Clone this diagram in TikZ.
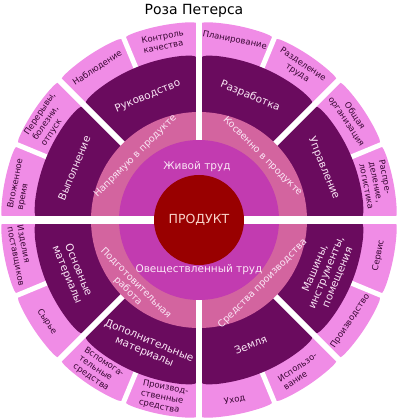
\documentclass[tikz,border=0pt]{standalone}
\usepackage{fontspec}
\setmainfont{DejaVu Sans}
\definecolor{petal}{HTML}{F08CE6}
\definecolor{leaf}{HTML}{6A0B5E}
\definecolor{band}{HTML}{D3649F}
\definecolor{inner}{HTML}{C23BB0}
\definecolor{core}{HTML}{990000}
\definecolor{petaltext}{HTML}{3A0634}
\definecolor{lighttext}{HTML}{FBE6F6}
\definecolor{coretext}{HTML}{F8D2C8}

% sector between angles #1 and #2, radii #3..#4, outer corners rounded by #5
\newcommand\roundsector[6]{%
  \pgfmathsetmacro\cornerang{#5/(#4)*180/pi}%
  \fill[#6] ({#1}:{#3}) -- ({#1}:{#4-#5}) .. controls ({#1}:{#4}) .. ({#1+\cornerang}:{#4})
    arc[start angle={#1+\cornerang}, end angle={#2-\cornerang}, radius={#4}]
    .. controls ({#2}:{#4}) .. ({#2}:{#4-#5}) -- ({#2}:{#3})
    arc[start angle={#2}, end angle={#1}, radius={#3}] -- cycle;
}

\begin{document}
\begin{tikzpicture}[x=1pt,y=1pt,
  gap/.style={white, line width=#1},
  petallabel/.style={text=petaltext, align=center, inner sep=0pt,
    font=\fontsize{8.5}{10}\selectfont},
  leftpetal/.style={petallabel, align=left},
  leaflabel/.style={text=lighttext, align=center, inner sep=0pt,
    font=\fontsize{10.5}{12.2}\selectfont},
  bandlabel/.style={text=lighttext, align=center, inner sep=0pt,
    font=\fontsize{9.6}{11}\selectfont},
  innerlabel/.style={text=lighttext, inner sep=0pt,
    font=\fontsize{10.5}{12}\selectfont}]
\useasboundingbox (-199,-200) rectangle (201,220);

\node (title) at (-5,209) {\fontsize{14}{16}\selectfont Роза Петерса};

% outer ring: sixteen petals
\foreach \i in {0,...,15} {
  \roundsector{\i*22.5}{\i*22.5+22.5}{140}{198}{13}{petal}
}
\foreach \a in {22.5,67.5,...,337.5} {
  \draw[gap=5] (\a:140) -- (\a:200);
}

% second ring: eight leaves
\foreach \i in {0,...,7} {
  \roundsector{\i*45}{\i*45+45}{100}{165}{18}{leaf}
}
\foreach \a in {45,135,225,315} {
  \draw[gap=6] (\a:100) -- (\a:200);
}

% band of four quarters
\fill[band] (0,0) circle[radius=108];
\draw[gap=6] (0,75) -- (0,199);
\draw[gap=6] (0,-75) -- (0,-200);

% inner ring halves
\fill[inner] (0,0) circle[radius=80];
\draw[gap=8] (-200,0) -- (201,0);

% core
\fill[core] (0,0) circle[radius=45];
\node[text=coretext, font=\fontsize{12.5}{14}\selectfont] (product) at (0,0) {ПРОДУКТ};

\node[innerlabel] (living) at (-2,53) {Живой труд};
\node[innerlabel] (embodied) at (0,-50) {Овеществленный труд};

\node[bandlabel, rotate=45] (direct) at (135:90) {Напрямую в продукте};
\node[bandlabel, rotate=-45] (indirect) at (45:90) {Косвенно в продукте};
\node[bandlabel, rotate=-45] (prep) at (225:95) {Подготовительная\\работа};
\node[bandlabel, rotate=45] (means) at (315:90) {Средства производства};

% leaf labels
\node[leaflabel, rotate=22.5] (lead) at (112.5:134) {Руководство};
\node[leaflabel, rotate=67.5] (exec) at (157.5:135) {Выполнение};
\node[leaflabel, rotate=-22.5] (devel) at (67.5:134) {Разработка};
\node[leaflabel, rotate=-67.5] (manage) at (22.5:135) {Управление};
\node[leaflabel, rotate=-67.5] (basic) at (202.5:137) {Основные\\материалы};
\node[leaflabel, rotate=-22.5] (extra) at (247.5:137) {Дополнительные\\материалы};
\node[leaflabel, rotate=22.5] (land) at (292.5:135) {Земля};
\node[leaflabel, rotate=67.5] (machines) at (337.5:138) {Машины,\\инструменты,\\помещения};

% petal labels
\node[leftpetal, rotate=11.25] (quality) at (101.25:182) {Контроль\\качества};
\node[petallabel, rotate=33.75] (watch) at (123.75:183) {Наблюдение};
\node[leftpetal, rotate=56.25] (breaks) at (146.25:181) {Перерывы,\\болезни,\\отпуск};
\node[leftpetal, rotate=78.75] (time) at (168.75:182) {Вложенное\\время};
\node[leftpetal, rotate=-78.75] (supply) at (191.25:182) {Изделия\\поставщиков};
\node[petallabel, rotate=-56.25] (raw) at (213.75:183) {Сырье};
\node[leftpetal, rotate=-33.75] (aux) at (236.25:181) {Вспомога-\\тельные\\средства};
\node[leftpetal, rotate=-11.25] (prodmeans) at (258.75:181) {Производ-\\ственные\\средства};
\node[petallabel, rotate=11.25] (care) at (281.25:183) {Уход};
\node[leftpetal, rotate=33.75] (use) at (303.75:182) {Использо-\\вание};
\node[petallabel, rotate=56.25] (production) at (326.25:182) {Производство};
\node[petallabel, rotate=78.75] (service) at (348.75:183) {Сервис};
\node[leftpetal, rotate=-78.75] (logistics) at (11.25:181) {Распре-\\деление,\\логистика};
\node[petallabel, rotate=-56.25] (org) at (33.75:182) {Общая\\организация};
\node[petallabel, rotate=-33.75] (division) at (56.25:182) {Разделение\\труда};
\node[petallabel, rotate=-11.25] (plan) at (78.75:183) {Планирование};
\end{tikzpicture}
\end{document}
